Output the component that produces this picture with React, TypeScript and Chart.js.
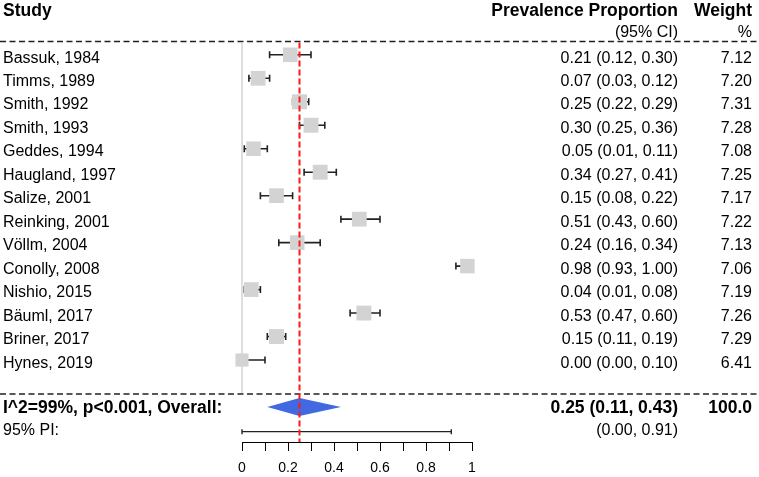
import React, { useEffect, useRef } from "react";
import { Chart, registerables } from "chart.js";

Chart.register(...registerables);

// ---------- data ----------
const studies = [
  "Bassuk, 1984", "Timms, 1989", "Smith, 1992", "Smith, 1993", "Geddes, 1994",
  "Haugland, 1997", "Salize, 2001", "Reinking, 2001", "Völlm, 2004", "Conolly, 2008",
  "Nishio, 2015", "Bäuml, 2017", "Briner, 2017", "Hynes, 2019",
];
const estimates = [0.21, 0.07, 0.25, 0.30, 0.05, 0.34, 0.15, 0.51, 0.24, 0.98, 0.04, 0.53, 0.15, 0.00];
const lower = [0.12, 0.03, 0.22, 0.25, 0.01, 0.27, 0.08, 0.43, 0.16, 0.93, 0.01, 0.47, 0.11, 0.00];
const upper = [0.30, 0.12, 0.29, 0.36, 0.11, 0.41, 0.22, 0.60, 0.34, 1.00, 0.08, 0.60, 0.19, 0.10];
const weights = [7.12, 7.20, 7.31, 7.28, 7.08, 7.25, 7.17, 7.22, 7.13, 7.06, 7.19, 7.26, 7.29, 6.41];

const overallEst = 0.25;
const overallLo = 0.11;
const overallHi = 0.43;
const overallWeight = "100.0";
const overallLabel = "I^2=99%, p<0.001, Overall:";
const piLo = 0.0;
const piHi = 0.91;
const piLabel = "95% PI:";

const headerStudy = "Study";
const headerEst = "Prevalence Proportion";
const headerEst2 = "(95% CI)";
const headerW = "Weight";
const headerW2 = "%";

const tickLabels = ["0", "0.2", "0.4", "0.6", "0.8", "1"];

// row positions (y-scale units)
const studyRows = studies.map((_, i) => i + 1);
const headerRow1 = -1;
const headerRow2 = 0;
const topRule = 0.43;
const bottomRule = 15.45;
const overallRow = 16;
const piRow = 17.05;

const FONT = '"Liberation Sans", Arial, Helvetica, sans-serif';

const fmt = (v: number) => v.toFixed(2);

export default function App() {
  const ref = useRef<HTMLCanvasElement | null>(null);

  useEffect(() => {
    document.body.style.margin = "0";
    const canvas = ref.current;
    if (!canvas) return;

    const forestPlugin = {
      id: "forest",
      beforeDatasetsDraw(chart: any) {
        const { ctx } = chart;
        const xs = chart.scales.x;
        const ys = chart.scales.y;
        ctx.save();
        // black dashed rules
        ctx.strokeStyle = "#222";
        ctx.lineWidth = 1.5;
        ctx.setLineDash([6, 3.5]);
        [topRule, bottomRule].forEach((r) => {
          const y = ys.getPixelForValue(r);
          ctx.beginPath();
          ctx.moveTo(0, y);
          ctx.lineTo(chart.width, y);
          ctx.stroke();
        });
        ctx.setLineDash([]);
        // grey reference line at 0
        ctx.strokeStyle = "#d3d3d3";
        ctx.lineWidth = 1.5;
        ctx.beginPath();
        ctx.moveTo(xs.getPixelForValue(0), ys.getPixelForValue(topRule) + 1);
        ctx.lineTo(xs.getPixelForValue(0), ys.getPixelForValue(bottomRule) - 1);
        ctx.stroke();
        // whiskers
        ctx.strokeStyle = "#222";
        ctx.lineWidth = 1.6;
        studyRows.forEach((r, i) => {
          const y = ys.getPixelForValue(r);
          const x1 = xs.getPixelForValue(lower[i]);
          const x2 = xs.getPixelForValue(upper[i]);
          ctx.beginPath();
          ctx.moveTo(x1, y);
          ctx.lineTo(x2, y);
          ctx.moveTo(x1, y - 3.5);
          ctx.lineTo(x1, y + 3.5);
          ctx.moveTo(x2, y - 3.5);
          ctx.lineTo(x2, y + 3.5);
          ctx.stroke();
        });
        ctx.restore();
      },
      afterDatasetsDraw(chart: any) {
        const { ctx } = chart;
        const xs = chart.scales.x;
        const ys = chart.scales.y;
        ctx.save();
        // diamond
        const yo = ys.getPixelForValue(overallRow);
        ctx.fillStyle = "#4169E1";
        ctx.beginPath();
        ctx.moveTo(xs.getPixelForValue(overallLo), yo);
        ctx.lineTo(xs.getPixelForValue(overallEst), yo - 9);
        ctx.lineTo(xs.getPixelForValue(overallHi), yo);
        ctx.lineTo(xs.getPixelForValue(overallEst), yo + 9);
        ctx.closePath();
        ctx.fill();
        // prediction interval
        const yp = ys.getPixelForValue(piRow);
        const p1 = xs.getPixelForValue(piLo);
        const p2 = xs.getPixelForValue(piHi);
        ctx.strokeStyle = "#222";
        ctx.lineWidth = 1.4;
        ctx.beginPath();
        ctx.moveTo(p1, yp);
        ctx.lineTo(p2, yp);
        ctx.moveTo(p1, yp - 2.5);
        ctx.lineTo(p1, yp + 2.5);
        ctx.moveTo(p2, yp - 2.5);
        ctx.lineTo(p2, yp + 2.5);
        ctx.stroke();
        // red dashed line at overall estimate
        const xr = xs.getPixelForValue(overallEst);
        ctx.strokeStyle = "#ff1a1a";
        ctx.lineWidth = 2;
        ctx.setLineDash([6, 3]);
        ctx.beginPath();
        ctx.moveTo(xr, ys.getPixelForValue(topRule) + 1);
        ctx.lineTo(xr, chart.chartArea.bottom);
        ctx.stroke();
        ctx.setLineDash([]);

        // text
        ctx.fillStyle = "#000";
        ctx.textBaseline = "alphabetic";
        const colL = 3;
        const colEst = 678;
        const colW = 752;
        // headers
        ctx.font = `bold 17.5px ${FONT}`;
        const h1 = ys.getPixelForValue(headerRow1) + 8;
        ctx.textAlign = "left";
        ctx.fillText(headerStudy, colL, h1);
        ctx.textAlign = "right";
        ctx.fillText(headerEst, colEst, h1);
        ctx.fillText(headerW, colW, h1);
        ctx.font = `16px ${FONT}`;
        const h2 = ys.getPixelForValue(headerRow2) + 6;
        ctx.fillText(headerEst2, colEst, h2);
        ctx.fillText(headerW2, colW, h2);
        // studies
        studyRows.forEach((r, i) => {
          const y = ys.getPixelForValue(r) + 7.7;
          ctx.textAlign = "left";
          ctx.fillText(studies[i], colL, y);
          ctx.textAlign = "right";
          ctx.fillText(`${fmt(estimates[i])} (${fmt(lower[i])}, ${fmt(upper[i])})`, colEst, y);
          ctx.fillText(fmt(weights[i]), colW, y);
        });
        // overall
        ctx.font = `bold 17.5px ${FONT}`;
        const yoT = yo + 6;
        ctx.textAlign = "left";
        ctx.fillText(overallLabel, colL, yoT);
        ctx.textAlign = "right";
        ctx.fillText(`${fmt(overallEst)} (${fmt(overallLo)}, ${fmt(overallHi)})`, colEst, yoT);
        ctx.fillText(overallWeight, colW, yoT);
        // PI
        ctx.font = `16px ${FONT}`;
        const ypT = yp + 3;
        ctx.textAlign = "left";
        ctx.fillText(piLabel, colL, ypT);
        ctx.textAlign = "right";
        ctx.fillText(`(${fmt(piLo)}, ${fmt(piHi)})`, colEst, ypT);
        ctx.restore();
      },
    };

    const chart = new Chart(canvas, {
      type: "scatter",
      data: {
        datasets: [
          {
            data: estimates.map((v, i) => ({ x: v, y: studyRows[i] })),
            pointStyle: "rect",
            pointRadius: weights.map((w) => (2.05 * w) / Math.SQRT2),
            pointHoverRadius: weights.map((w) => (2.05 * w) / Math.SQRT2),
            backgroundColor: "#D3D3D3",
            borderWidth: 0,
            clip: false as any,
          },
        ],
      },
      options: {
        responsive: false,
        animation: false,
        devicePixelRatio: 1,
        layout: { autoPadding: false, padding: { left: 242, right: 287, top: 0, bottom: 0 } },
        plugins: {
          legend: { display: false },
          tooltip: { enabled: false },
        },
        events: [],
        scales: {
          x: {
            type: "linear",
            min: 0,
            max: 1,
            offset: false,
            afterFit: (scale: any) => {
              scale.height = 35;
            },
            border: { display: true, color: "#000", width: 1 },
            grid: {
              drawOnChartArea: false,
              drawTicks: true,
              tickLength: 9,
              color: "#000",
              lineWidth: 1,
            },
            ticks: {
              stepSize: 0.1,
              autoSkip: false,
              maxRotation: 0,
              padding: 8.5,
              color: "#000",
              font: { family: FONT, size: 14 },
              callback: (v: any) => {
                const i = Math.round(Number(v) * 10);
                return i % 2 === 0 ? tickLabels[i / 2] : "";
              },
            },
          },
          y: {
            type: "linear",
            display: false,
            reverse: true,
            min: -1.334,
            max: 17.491,
          },
        },
      },
      plugins: [forestPlugin],
    });

    return () => chart.destroy();
  }, []);

  return (
    <div style={{ width: 759, height: 477 }}>
      <canvas ref={ref} width={759} height={477} style={{ display: "block" }} />
    </div>
  );
}
